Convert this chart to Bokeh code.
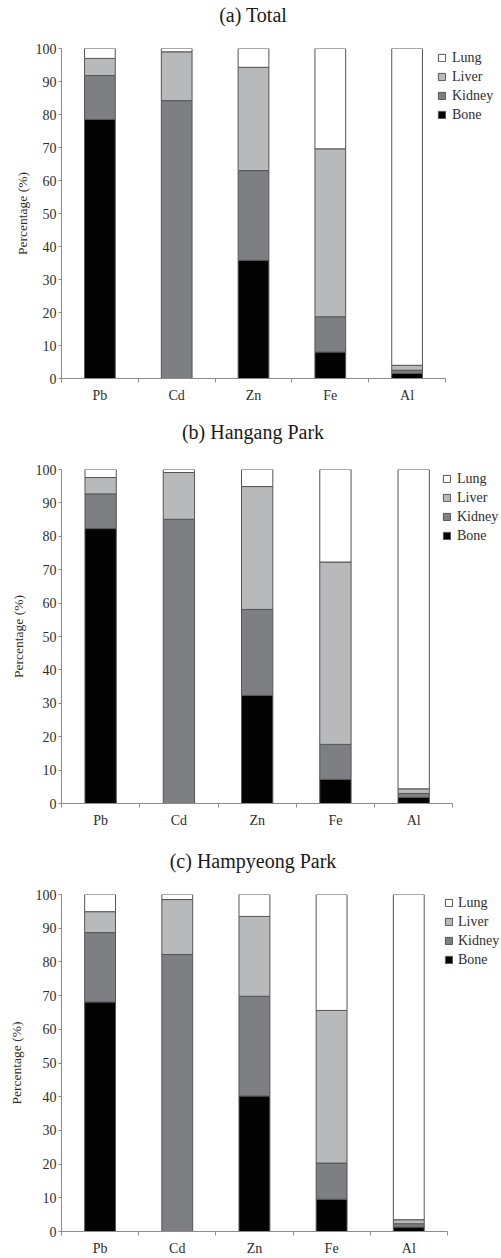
from bokeh.plotting import figure
from bokeh.layouts import column
from bokeh.models import ColumnDataSource, Range1d, FixedTicker, Legend, LegendItem, Div
from bokeh.embed import file_html
from bokeh.resources import INLINE

# ---------------- data ----------------
categories = ["Pb", "Cd", "Zn", "Fe", "Al"]
organs = ["Bone", "Kidney", "Liver", "Lung"]
y_ticks = [0, 10, 20, 30, 40, 50, 60, 70, 80, 90, 100]

# (a) Total
bone_total = [78.5, 0.0, 35.8, 8.0, 1.5]
kidney_total = [13.3, 84.2, 27.2, 10.7, 1.0]
liver_total = [5.2, 14.8, 31.3, 50.9, 1.5]
lung_total = [3.0, 1.0, 5.7, 30.4, 96.0]

# (b) Hangang Park
bone_hangang = [82.3, 0.0, 32.4, 7.2, 1.8]
kidney_hangang = [10.4, 85.1, 25.7, 10.5, 1.2]
liver_hangang = [4.9, 14.0, 36.8, 54.6, 1.4]
lung_hangang = [2.4, 0.9, 5.1, 27.7, 95.6]

# (c) Hampyeong Park
bone_hampyeong = [68.1, 0.0, 40.2, 9.6, 1.3]
kidney_hampyeong = [20.6, 82.2, 29.6, 10.7, 1.0]
liver_hampyeong = [6.2, 16.3, 23.7, 45.3, 1.2]
lung_hampyeong = [5.1, 1.5, 6.5, 34.4, 96.5]

titles = ["(a) Total", "(b) Hangang Park", "(c) Hampyeong Park"]

# ---------------- style ----------------
FONT = "Liberation Serif"
COLORS = {"Bone": "#030303", "Kidney": "#7e7f83", "Liver": "#b8b9bb", "Lung": "#ffffff"}
AXIS_COLOR = "#8c8c8c"
TEXT_COLOR = "#2e2e2e"
W = 501


def title_div(text, height):
    return Div(text=text, width=W, height=height, margin=0,
               styles={"font-family": "'Liberation Serif', serif", "font-size": "20px",
                       "line-height": f"{height}px", "text-align": "center",
                       "color": "#1a1a1a", "text-indent": "5px",
                       "white-space": "nowrap"})


def panel(bone, kidney, liver, lung, height, left, top, bottom, axis_px,
          ylabel_standoff, legend_loc, legend_standoff=6):
    n = len(categories)
    xs = [i + 0.5 for i in range(n)]
    src = ColumnDataSource(dict(x=xs, Bone=bone, Kidney=kidney, Liver=liver, Lung=lung))
    frame_w = W - left
    p = figure(width=W, height=height,
               x_range=Range1d(0, n * frame_w / axis_px), y_range=Range1d(0, 100),
               output_backend="svg", toolbar_location=None,
               min_border_left=left, min_border_right=0,
               min_border_top=top, min_border_bottom=bottom)
    p.margin = 0
    rs = p.vbar_stack(organs, x="x", width=0.4, source=src,
                      fill_color=[COLORS[o] for o in organs],
                      line_color="#555555", line_width=1)

    p.xgrid.visible = False
    p.ygrid.visible = False
    p.outline_line_color = None
    p.background_fill_color = "white"
    p.border_fill_color = "white"

    xa = p.xaxis[0]
    xa.bounds = (0, n)
    xa.ticker = FixedTicker(ticks=xs, minor_ticks=list(range(n + 1)))
    xa.major_label_overrides = {x: c for x, c in zip(xs, categories)}
    xa.major_tick_out = 0
    xa.major_tick_in = 0
    xa.minor_tick_out = 4
    xa.minor_tick_in = 0
    xa.major_label_standoff = 5

    ya = p.yaxis[0]
    ya.ticker = FixedTicker(ticks=y_ticks)
    ya.major_tick_out = 3
    ya.major_tick_in = 0
    ya.major_label_standoff = 2
    ya.axis_label = "Percentage (%)"
    ya.axis_label_standoff = ylabel_standoff

    for ax in (xa, ya):
        ax.axis_line_color = AXIS_COLOR
        ax.major_tick_line_color = AXIS_COLOR
        ax.minor_tick_line_color = AXIS_COLOR
        ax.major_label_text_font = FONT
        ax.major_label_text_font_size = "14px"
        ax.major_label_text_color = TEXT_COLOR
        ax.axis_label_text_font = FONT
        ax.axis_label_text_font_size = "13.5px"
        ax.axis_label_text_font_style = "normal"
        ax.axis_label_text_color = TEXT_COLOR

    items = [LegendItem(label=o, renderers=[r]) for o, r in zip(organs, rs)][::-1]
    leg = Legend(items=items, location=legend_loc, orientation="vertical",
                 glyph_width=9, glyph_height=9, label_height=19, spacing=0,
                 padding=0, margin=0, label_standoff=legend_standoff,
                 label_text_font=FONT, label_text_font_size="14px",
                 label_text_color=TEXT_COLOR, border_line_color=None,
                 background_fill_alpha=0)
    p.add_layout(leg, "center")
    return p


da = title_div(titles[0], 30)
pa = panel(bone_total, kidney_total, liver_total, lung_total,
           390, 61, 18, 42, 384, 3, (376, 254))
db = title_div(titles[1], 24)
pb = panel(bone_hangang, kidney_hangang, liver_hangang, lung_hangang,
           394, 58, 25, 35, 394, 7, (381, 258))
dc = title_div(titles[2], 46)
pc = panel(bone_hampyeong, kidney_hampyeong, liver_hampyeong, lung_hampyeong,
           374, 54, 10, 24, 392, 9, (383, 262), legend_standoff=5)

layout = column(da, pa, db, pb, dc, pc, spacing=0)
open("out.html", "w").write(file_html(layout, INLINE))
